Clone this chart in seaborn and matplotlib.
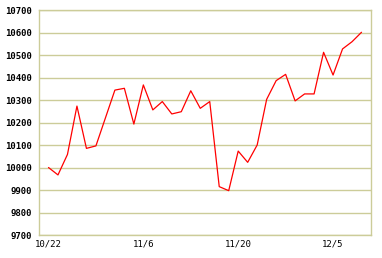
import matplotlib
matplotlib.use("Agg")
import matplotlib.pyplot as plt
import seaborn as sns
import pandas as pd

values = [10000, 9967, 10058, 10273, 10085, 10096, 10220, 10344, 10352, 10193,
          10367, 10256, 10293, 10238, 10248, 10341, 10263, 10293, 9915, 9897,
          10073, 10023, 10100, 10303, 10386, 10414, 10296, 10327, 10327, 10512,
          10411, 10527, 10559, 10601]
tick_pos = [0, 10, 20, 30]
tick_labels = ["10/22", "11/6", "11/20", "12/5"]
y_ticks = list(range(9700, 10701, 100))

df = pd.DataFrame({"i": list(range(len(values))), "v": values})

sns.set_style("white")
plt.rcParams['font.family'] = ['DejaVu Sans Mono']

fig = plt.figure(figsize=(3.82, 2.58), dpi=100)
ax = fig.add_axes([39/382, 23/258, 332/382, 225/258])
grid_c = "#CCCC99"
sns.lineplot(data=df, x="i", y="v", ax=ax, color="red", linewidth=0.9)
ax.set_xlim(-1, 34)
ax.set_ylim(9700, 10700)
ax.set_yticks(y_ticks)
ax.set_yticklabels([str(t) for t in y_ticks], fontsize=6.5, fontweight="bold")
ax.set_xticks(tick_pos)
ax.set_xticklabels(tick_labels, fontsize=6.5)
for y in y_ticks:
    ax.axhline(y, color=grid_c, linewidth=1.0, zorder=0)
for s in ax.spines.values():
    s.set_color(grid_c)
    s.set_linewidth(1.0)
ax.tick_params(axis="x", direction="in", length=4, color=grid_c, pad=3, width=1,
               labelcolor="black")
ax.tick_params(axis="y", length=0, pad=5, labelcolor="black")
ax.set_xlabel("")
ax.set_ylabel("")
fig.savefig("out.png", dpi=100)
